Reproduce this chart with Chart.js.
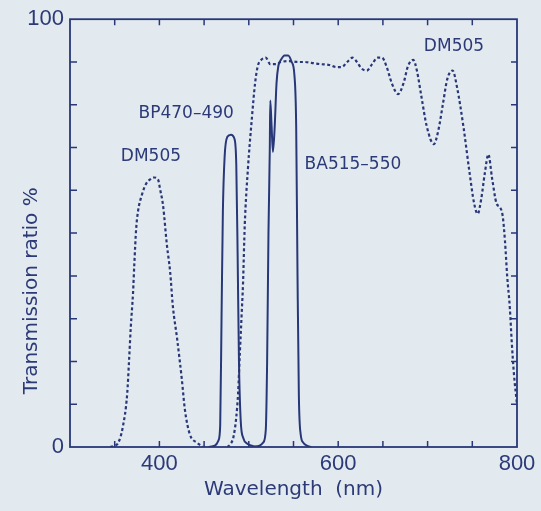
<!DOCTYPE html>
<html>
<head>
<meta charset="utf-8">
<script src="https://cdn.jsdelivr.net/npm/chart.js@4.4.1/dist/chart.umd.min.js"></script>
<style>
  html, body { margin: 0; padding: 0; background: #e2eaef; }
  canvas { display: block; }
</style>
</head>
<body>
<canvas id="chart" width="541" height="511"></canvas>
<script>
// DM505 dichroic mirror, short-wave lobe (nm / %)
const dmUvWl = [345, 350, 354, 359, 364, 366, 368, 370.5, 372, 374, 376, 380.5, 385, 390, 394, 398.5, 401, 404, 408.5, 412, 415, 419.7, 425, 428.6, 434, 442, 449];
const dmUvT  = [0, 0.3, 1, 4.6, 12.5, 20, 28, 36, 43, 51, 55, 59, 61.5, 62.6, 63, 62.5, 60, 56.6, 47, 41, 33, 25.5, 16, 8.6, 3, 1, 0];

// DM505, long-wave part
const dmVisWl = [476, 480, 483, 486, 488, 490, 492, 493.5, 495.5, 499, 503.5, 507, 510, 514, 519, 524, 530, 536, 545, 555, 562, 570, 580, 590, 598, 604, 610, 616, 621, 626, 632, 638, 644, 649, 654, 660, 667, 673, 678, 684, 688, 693, 699, 707, 712, 717, 722, 728, 733, 740, 747, 752, 756, 760, 764, 768, 772, 777, 781, 784, 786.6, 789, 792, 794, 796.6, 800];
const dmVisT  = [0, 0.8, 2.5, 7, 12.5, 22, 31, 38, 52, 65, 77, 85, 89, 90.5, 91, 89.5, 89.5, 90, 90.2, 90, 90, 89.8, 89.5, 89.3, 88.8, 88.8, 90, 91, 90, 88.5, 88, 89.5, 91, 91, 89, 85, 82.5, 85, 89, 90.5, 88, 82, 75, 70.8, 74, 80, 86, 88, 84, 75, 64, 57, 54.5, 58, 64, 68.4, 63, 57, 56, 54, 48, 40, 32.5, 25, 17, 10];

// BP470-490 excitation filter
const bpWl = [455, 462, 466, 468, 469.5, 471, 473, 476, 480, 484, 486, 487.5, 489, 491, 494, 498, 505, 512];
const bpT  = [0, 0.3, 1.5, 5, 30, 55, 68, 72.5, 73, 72, 66, 45, 20, 6, 2, 0.8, 0.2, 0];

// BA515-550 barrier filter
const baWl = [505, 512, 516, 519, 520.5, 522, 523.5, 524, 525.5, 527, 529, 531, 533, 536, 540, 544, 548, 551, 553, 554.5, 556, 558, 561, 565, 570];
const baT  = [0, 0.3, 1, 4, 20, 50, 70, 81, 75, 69, 75, 85, 89, 90.5, 91.5, 91.5, 90, 87, 75, 40, 12, 3, 1, 0.3, 0];

const xLabels = [400, 600, 800];
const yLabels = [0, 100];
const xMinorTicks = [350, 400, 450, 500, 550, 600, 650, 700, 750];
const yMinorTicks = [10, 20, 30, 40, 50, 60, 70, 80, 90];

const noteText = ['DM505', 'BP470\u2013490', 'BA515\u2013550', 'DM505'];
const noteWl   = [390.5, 430, 616.5, 729.5];
const noteT    = [68, 78, 66, 93.7];

const ink = '#283778';
const textInk = '#2c3a78';

function pts(xs, ys) {
    return xs.map((x, i) => ({x: x, y: ys[i]}));
}

const dotted = {
    borderColor: ink,
    borderWidth: 2.2,
    borderDash: [3, 2.5],
    fill: false,
    pointRadius: 0,
    cubicInterpolationMode: 'monotone'
};
const solid = {
    borderColor: ink,
    borderWidth: 2,
    fill: false,
    pointRadius: 0,
    cubicInterpolationMode: 'monotone'
};

// frame, inward ticks, notes and y title
const decor = {
    id: 'decor',
    afterDatasetsDraw(chart) {
        const ctx = chart.ctx;
        const a = chart.chartArea;
        const xs = chart.scales.x, ys = chart.scales.y;
        ctx.save();
        ctx.strokeStyle = ink;
        ctx.lineWidth = 1.8;
        ctx.strokeRect(a.left, a.top, a.right - a.left, a.bottom - a.top);
        ctx.lineWidth = 1.5;
        ctx.beginPath();
        xMinorTicks.forEach(v => {
            const px = xs.getPixelForValue(v);
            ctx.moveTo(px, a.bottom); ctx.lineTo(px, a.bottom - 6);
            ctx.moveTo(px, a.top); ctx.lineTo(px, a.top + 6);
        });
        yMinorTicks.forEach(v => {
            const py = ys.getPixelForValue(v);
            ctx.moveTo(a.left, py); ctx.lineTo(a.left + 7, py);
            ctx.moveTo(a.right, py); ctx.lineTo(a.right - 6, py);
        });
        ctx.stroke();

        ctx.fillStyle = textInk;
        ctx.font = '17px "DejaVu Sans"';
        ctx.textAlign = 'center';
        ctx.textBaseline = 'middle';
        noteText.forEach((t, i) => {
            ctx.fillText(t, xs.getPixelForValue(noteWl[i]), ys.getPixelForValue(noteT[i]));
        });

        ctx.font = '20px "DejaVu Sans"';
        ctx.translate(32, a.top + (a.bottom - a.top) * 0.635);
        ctx.rotate(-Math.PI / 2);
        ctx.fillText('Transmission ratio %', 0, 0);
        ctx.restore();
    }
};

new Chart(document.getElementById('chart'), {
    type: 'line',
    data: {
        datasets: [
            Object.assign({label: 'DM505', data: pts(dmUvWl, dmUvT)}, dotted),
            Object.assign({label: 'DM505 long', data: pts(dmVisWl, dmVisT)}, dotted),
            Object.assign({label: 'BP470-490', data: pts(bpWl, bpT)}, solid),
            Object.assign({label: 'BA515-550', data: pts(baWl, baT)}, solid)
        ]
    },
    options: {
        responsive: false,
        animation: false,
        layout: { padding: { top: 16, right: 24, left: 0, bottom: 0 } },
        plugins: {
            legend: { display: false },
            tooltip: { enabled: false }
        },
        scales: {
            x: {
                type: 'linear',
                min: 300,
                max: 800,
                afterFit: s => { s.height = 64; },
                grid: { display: false, drawTicks: false },
                border: { display: false },
                ticks: {
                    stepSize: 50,
                    padding: 4,
                    maxRotation: 0,
                    autoSkip: false,
                    color: textInk,
                    font: { family: '"Liberation Sans", Arial, sans-serif', size: 22 },
                    callback: v => xLabels.includes(v) ? String(v) : ''
                },
                title: {
                    display: true,
                    text: 'Wavelength  (nm)',
                    color: textInk,
                    font: { family: '"DejaVu Sans"', size: 20 },
                    padding: { top: 0, bottom: 9 }
                }
            },
            y: {
                min: 0,
                max: 100,
                afterFit: s => { s.width = 70; },
                grid: { display: false, drawTicks: false },
                border: { display: false },
                ticks: {
                    stepSize: 10,
                    padding: 6,
                    autoSkip: false,
                    color: textInk,
                    font: { family: '"Liberation Sans", Arial, sans-serif', size: 22 },
                    callback: v => yLabels.includes(v) ? String(v) : ''
                }
            }
        }
    },
    plugins: [decor]
});
</script>
</body>
</html>
